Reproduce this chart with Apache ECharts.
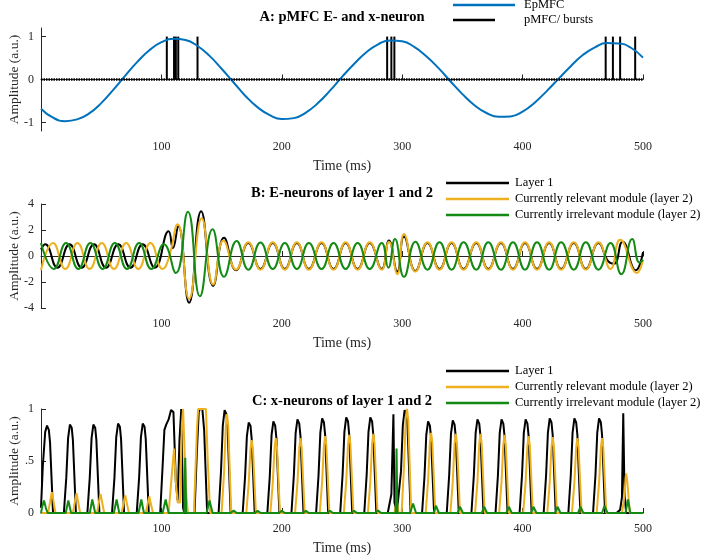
<!DOCTYPE html>
<html>
<head>
<meta charset="utf-8">
<script src="https://cdn.jsdelivr.net/npm/echarts@6/dist/echarts.min.js"></script>
<style>
  html, body { margin: 0; padding: 0; background: #fff; }
  #main { width: 701px; height: 557px; }
</style>
</head>
<body>
<div id="main"></div>
<script>
// ---- panel A: pMFC E- and x-neuron ----
var timeA = [0, 10, 20, 30, 40, 50, 60, 70, 80, 90, 100, 110, 120, 130, 140, 150, 160, 170, 180, 190, 200,
  210, 220, 230, 240, 250, 260, 270, 280, 290, 300, 310, 320, 330, 340, 350, 360, 370, 380, 390, 400,
  410, 420, 430, 440, 450, 460, 470, 480, 490, 500];
var epmfc = [-0.68, -0.89, -0.97, -0.93, -0.79, -0.55, -0.24, 0.09, 0.41, 0.68, 0.87, 0.95, 0.92, 0.78, 0.55,
  0.25, -0.07, -0.39, -0.65, -0.83, -0.92, -0.90, -0.77, -0.55, -0.26, 0.06, 0.36, 0.63, 0.82, 0.91, 0.89,
  0.76, 0.54, 0.27, -0.04, -0.34, -0.60, -0.78, -0.87, -0.86, -0.75, -0.54, -0.27, 0.02, 0.31, 0.57, 0.75,
  0.85, 0.84, 0.74, 0.51];
var burstTimes = [104.5, 110.5, 112, 114, 130, 287.5, 291, 293.5, 469, 475, 481, 493.5];
var burstHeights = [1, 1, 1, 1, 1, 1, 1, 1, 1, 1, 1, 1];
var pmfcBaseline = [[0, 0], [500, 0]];

// ---- panel B: E-neurons (extrema) ----
var layer1E = [[0, 0.5], [3.5, 0.9], [13.6, -0.9], [23.7, 0.9], [33.8, -0.9], [44, 0.9], [54, -0.9], [64.2, 0.9],
  [74.3, -0.9], [84.4, 0.9], [94.5, -0.9], [106, 1.9], [109.5, 0.6], [114, 2.3], [123, -3.6], [133, 3.45],
  [143, -2.3], [152, 1.4], [162, -1.1], [172.2, 1.0], [182.3, -1.0], [192.5, 1.0], [202.5, -1.0], [212.5, 1.0],
  [222.5, -1.0], [233, 1.0], [243, -1.0], [253, 1.0], [263, -1.0], [273, 1.0], [283, -1.0], [289, 1.2],
  [296, -1.2], [301.5, 1.5], [311, -1.15], [321, 1.0], [331, -1.0], [341, 1.0], [351, -1.0], [361.5, 1.0],
  [371.5, -1.0], [382, 1.0], [392, -1.0], [402, 1.0], [412, -1.0], [422, 1.0], [432, -1.0], [442.5, 1.0],
  [452.5, -1.0], [463, 1.0], [471, -0.4], [476, -0.6], [483, 1.1], [494, -1.1], [500, 0.3]];
var relevantE = [[0, -1.1], [10, 1.0], [20.2, -1.0], [30.3, 1.0], [40.4, -1.0], [50.5, 1.0], [60.6, -1.0],
  [70.7, 1.0], [80.8, -1.0], [90.9, 1.0], [101, -1.0], [106, -0.2], [113.5, 2.45], [123, -3.3], [133.5, 2.9],
  [143, -2.2], [151.5, 1.2], [162, -1.05], [172.2, 1.05], [182.3, -1.05], [192.5, 1.05], [202.5, -1.05],
  [212.5, 1.05], [222.5, -1.05], [233, 1.05], [243, -1.05], [253, 1.05], [263, -1.05], [273, 1.05],
  [283, -1.05], [289, 1.1], [296, -1.4], [301.5, 1.7], [311, -1.2], [321, 1.05], [331, -1.05], [341, 1.05],
  [351, -1.05], [361.5, 1.05], [371.5, -1.05], [382, 1.05], [392, -1.05], [402, 1.05], [412, -1.05],
  [422, 1.05], [432, -1.05], [442.5, 1.05], [452.5, -1.05], [463, 1.05], [473, -1.0], [481, 1.25],
  [495, -1.3], [500, -0.3]];
var irrelevantE = [[0, 1.0], [10.6, -1.0], [20.8, 1.0], [31, -1.0], [41, 1.0], [51.2, -1.0], [61.3, 1.0],
  [71.4, -1.0], [81.5, 1.0], [91.6, -1.0], [102, 0.9], [112, -1.3], [122, 3.4], [132, -3.1], [142.5, 2.05],
  [152, -1.6], [162.5, 1.15], [172.2, -1.05], [182.3, 1.03], [192.5, -1.0], [202.5, 1.0], [212.5, -1.0],
  [222.5, 1.0], [233, -1.0], [243, 1.0], [253, -1.0], [263, 1.0], [273, -1.0], [283, 1.0], [288.5, -0.9],
  [294, 1.3], [301.5, -1.6], [311, 1.1], [321, -1.05], [331, 1.05], [341, -1.05], [351, 1.05], [361.5, -1.05],
  [371.5, 1.05], [382, -1.05], [392, 1.05], [402, -1.05], [412, 1.05], [422, -1.05], [432, 1.05],
  [442.5, -1.05], [452.5, 1.05], [463, -1.05], [473, 1.0], [482, -1.4], [491, 1.3], [497, -0.5], [500, -0.3]];

// ---- panel C: x-neurons ----
var layer1X = [
  [0, 0.05], [1.5, 0.45], [3.5, 0.78], [5, 0.84], [6.5, 0.8], [7.5, 0.68], [10, 0],
  [19, 0], [21, 0.34], [22.5, 0.72], [24, 0.85], [25.5, 0.82], [26.5, 0.7], [29, 0],
  [38.5, 0], [40.5, 0.34], [42, 0.72], [43.5, 0.85], [45, 0.82], [46, 0.7], [48.5, 0],
  [59, 0], [61, 0.34], [62.5, 0.73], [64, 0.86], [65.5, 0.83], [66.5, 0.71], [69, 0],
  [79.5, 0], [81.5, 0.34], [83, 0.73], [84.5, 0.86], [86, 0.83], [87, 0.71], [89.5, 0],
  [99, 0], [101, 0.45], [102.5, 0.8], [104, 0.85], [106, 0.9], [108, 0.99], [110, 0.97], [112, 0.3],
  [113.5, 0.12], [115, 0.7], [116.5, 1.0], [118, 0.05], [119, 0],
  [127.5, 0], [129.5, 0.6], [131, 0.97], [132, 1.0], [134, 1.0], [135.5, 0.8], [138, 0],
  [147.5, 0], [149.5, 0.4], [151, 0.84], [152.5, 0.99], [154, 0.95], [155, 0.81], [157.5, 0],
  [167.5, 0], [169.5, 0.35], [171, 0.74], [172.5, 0.87], [174, 0.84], [175, 0.71], [177.5, 0],
  [188, 0], [190, 0.35], [191.5, 0.75], [193, 0.88], [194.5, 0.84], [195.5, 0.72], [198, 0],
  [208, 0], [210, 0.36], [211.5, 0.77], [213, 0.9], [214.5, 0.86], [215.5, 0.74], [218, 0],
  [228.5, 0], [230.5, 0.36], [232, 0.77], [233.5, 0.91], [235, 0.87], [236, 0.75], [238.5, 0],
  [248.5, 0], [250.5, 0.37], [252, 0.78], [253.5, 0.92], [255, 0.88], [256, 0.75], [258.5, 0],
  [268.5, 0], [270.5, 0.37], [272, 0.78], [273.5, 0.92], [275, 0.88], [276, 0.75], [278.5, 0],
  [288, 0], [291, 0.18], [292.7, 0.95], [293.6, 0.1], [295.5, 0],
  [297, 0], [299, 0.4], [300.5, 0.84], [302, 0.99], [303.5, 0.95], [304.5, 0.81], [307, 0],
  [316.5, 0], [318.5, 0.35], [320, 0.75], [321.5, 0.88], [323, 0.84], [324, 0.72], [326.5, 0],
  [337, 0], [339, 0.36], [340.5, 0.76], [342, 0.89], [343.5, 0.85], [344.5, 0.73], [347, 0],
  [357.5, 0], [359.5, 0.36], [361, 0.77], [362.5, 0.9], [364, 0.86], [365, 0.74], [367.5, 0],
  [377.5, 0], [379.5, 0.36], [381, 0.77], [382.5, 0.9], [384, 0.86], [385, 0.74], [387.5, 0],
  [397.5, 0], [399.5, 0.36], [401, 0.77], [402.5, 0.9], [404, 0.86], [405, 0.74], [407.5, 0],
  [417.5, 0], [419.5, 0.36], [421, 0.77], [422.5, 0.91], [424, 0.87], [425, 0.75], [427.5, 0],
  [438, 0], [440, 0.36], [441.5, 0.77], [443, 0.91], [444.5, 0.87], [445.5, 0.75], [448, 0],
  [458.5, 0], [460.5, 0.36], [462, 0.77], [463.5, 0.91], [465, 0.87], [466, 0.75], [468.5, 0],
  [478, 0], [481, 0.03], [482.5, 0.15], [483.6, 0.96], [484.6, 0.2], [486, 0],
  [500, 0]];
var relevantX = [
  [0, 0], [6, 0], [8, 0.14], [9, 0.2], [10, 0.14], [12, 0],
  [26.5, 0], [28.5, 0.13], [29.5, 0.19], [30.5, 0.13], [32.5, 0],
  [46.5, 0], [48.5, 0.13], [49.5, 0.18], [50.5, 0.12], [52.5, 0],
  [67, 0], [69, 0.12], [70, 0.17], [71, 0.11], [73, 0],
  [87, 0], [89, 0.11], [90, 0.16], [91, 0.1], [93, 0],
  [106, 0], [108.5, 0.35], [110.5, 0.62], [112, 0.3], [113.5, 0.1], [115.5, 0.1], [117, 0.85], [118, 1.0],
  [119.5, 1.0], [120.5, 0.2], [122, 0],
  [127, 0], [129.5, 0.8], [130.5, 1.0], [137, 1.0], [138.5, 0.5], [140.5, 0],
  [150, 0], [152, 0.38], [153.5, 0.84], [154.5, 0.95], [155.5, 0.84], [158, 0],
  [170.5, 0], [172.5, 0.28], [174, 0.62], [175, 0.7], [176, 0.62], [178.5, 0],
  [190.5, 0], [192.5, 0.29], [194, 0.63], [195, 0.72], [196, 0.63], [198.5, 0],
  [211, 0], [213, 0.29], [214.5, 0.63], [215.5, 0.72], [216.5, 0.63], [219, 0],
  [231.5, 0], [233.5, 0.3], [235, 0.65], [236, 0.74], [237, 0.65], [239.5, 0],
  [251.5, 0], [253.5, 0.3], [255, 0.66], [256, 0.75], [257, 0.66], [259.5, 0],
  [271.5, 0], [273.5, 0.3], [275, 0.67], [276, 0.76], [277, 0.67], [279.5, 0],
  [293.5, 0], [295.5, 0.12], [297, 0],
  [299.5, 0], [301.5, 0.45], [303, 0.92], [304, 1.0], [305, 0.9], [307.5, 0],
  [319.5, 0], [321.5, 0.31], [323, 0.68], [324, 0.77], [325, 0.68], [327.5, 0],
  [340, 0], [342, 0.3], [343.5, 0.67], [344.5, 0.76], [345.5, 0.67], [348, 0],
  [360.5, 0], [362.5, 0.3], [364, 0.67], [365, 0.76], [366, 0.67], [368.5, 0],
  [380.5, 0], [382.5, 0.3], [384, 0.66], [385, 0.75], [386, 0.66], [388.5, 0],
  [400.5, 0], [402.5, 0.3], [404, 0.65], [405, 0.74], [406, 0.65], [408.5, 0],
  [420.5, 0], [422.5, 0.29], [424, 0.64], [425, 0.73], [426, 0.64], [428.5, 0],
  [441, 0], [443, 0.29], [444.5, 0.63], [445.5, 0.72], [446.5, 0.63], [449, 0],
  [461.5, 0], [463.5, 0.29], [465, 0.63], [466, 0.72], [467, 0.63], [469.5, 0],
  [482.5, 0], [484.5, 0.15], [485.5, 0.33], [486, 0.38], [487, 0.3], [489, 0],
  [500, 0]];
var irrelevantX = [
  [0, 0], [1, 0.06], [2.5, 0.12], [4, 0.05], [5.5, 0],
  [20.5, 0], [22.7, 0.12], [25, 0],
  [40.5, 0], [42.6, 0.13], [45, 0],
  [60.5, 0], [62.8, 0.13], [65, 0],
  [81, 0], [83.3, 0.13], [85.5, 0],
  [101, 0], [103.5, 0.13], [106, 0],
  [119, 0], [119.8, 0.53], [120.6, 0],
  [137.5, 0], [140, 0.12], [142.5, 0],
  [157.5, 0], [160, 0.025], [162.5, 0],
  [177.5, 0], [180, 0.02], [182.5, 0],
  [197.5, 0], [200, 0.02], [202.5, 0],
  [217.5, 0], [220, 0.02], [222.5, 0],
  [237.5, 0], [240, 0.02], [242.5, 0],
  [257.5, 0], [260, 0.02], [262.5, 0],
  [277.5, 0], [280, 0.025], [282.5, 0],
  [294.6, 0], [295.3, 0.62], [296, 0],
  [306.5, 0], [309, 0.09], [311.5, 0],
  [326, 0], [328, 0.07], [330.5, 0],
  [346, 0], [348, 0.06], [350.5, 0],
  [366, 0], [368, 0.06], [370.5, 0],
  [386.5, 0], [388.6, 0.06], [391, 0],
  [407, 0], [409, 0.06], [411.5, 0],
  [427, 0], [429, 0.06], [431.5, 0],
  [446, 0], [448, 0.06], [450.5, 0],
  [466, 0], [468, 0.07], [470.5, 0],
  [485.5, 0], [487.5, 0.13], [489.5, 0],
  [500, 0]];

var names = ['Layer 1', 'Currently relevant module (layer 2)', 'Currently irrelevant module (layer 2)'];

var SERIF = 'Liberation Serif, Times New Roman, serif';
var AXIS = '#262626';
var C_BLUE = '#0072BD', C_BLACK = '#000000', C_YEL = '#EDB120', C_GREEN = '#138A13';

function xAx(i) {
    return {
        type: 'value', gridIndex: i, min: 0, max: 500, interval: 100,
        name: 'Time (ms)', nameLocation: 'middle', nameGap: 28, nameMoveOverlap: false,
        nameTextStyle: {fontFamily: SERIF, fontSize: 14, color: AXIS},
        axisLine: {lineStyle: {color: AXIS, width: 1}},
        axisTick: {inside: true, length: 5, lineStyle: {color: AXIS}},
        axisLabel: {showMinLabel: false, fontFamily: SERIF, fontSize: 12, color: AXIS, margin: 10},
        splitLine: {show: false}
    };
}
function yAx(i, extra) {
    var ax = {
        type: 'value', gridIndex: i,
        name: 'Amplitude (a.u.)', nameLocation: 'middle', nameGap: 20, nameMoveOverlap: false,
        nameTextStyle: {fontFamily: SERIF, fontSize: 13.5, color: AXIS},
        axisLine: {show: true, lineStyle: {color: AXIS, width: 1}},
        axisTick: {show: true, inside: true, length: 5, lineStyle: {color: AXIS}},
        axisLabel: {fontFamily: SERIF, fontSize: 12, color: AXIS, margin: 7},
        splitLine: {show: false}
    };
    for (var k in extra) {
        if (typeof extra[k] === 'object' && ax[k]) Object.assign(ax[k], extra[k]);
        else ax[k] = extra[k];
    }
    return ax;
}
function pairs(xs, ys) {
    return xs.map(function (x, i) { return [x, ys[i]]; });
}
function lineSeries(name, data, color, axis, smooth) {
    return {
        name: name, type: 'line', xAxisIndex: axis, yAxisIndex: axis, data: data,
        showSymbol: false, smooth: smooth,
        lineStyle: {color: color, width: 2}, itemStyle: {color: color}
    };
}
function legendBox(data, left, top, width, pad) {
    return {
        data: data, orient: 'vertical', left: left, top: top, padding: 0,
        itemWidth: width, itemHeight: 2.5, itemGap: 0, icon: 'rect',
        textStyle: {fontFamily: SERIF, fontSize: 12.5, color: '#000', lineHeight: 16, padding: [0, 0, 0, pad || 0]}
    };
}
function titleBox(text, top) {
    return {
        text: text, left: 342, top: top, textAlign: 'center', padding: 0,
        textStyle: {fontFamily: SERIF, fontSize: 14.5, fontWeight: 'bold', color: '#000'}
    };
}
function gridBox(top, height) {
    return {left: 41, top: top, width: 602, height: height, containLabel: false, outerBoundsMode: 'none'};
}

var myChart = echarts.init(document.getElementById('main'));
var option = {
    animation: false,
    backgroundColor: '#fff',
    title: [
        titleBox('A: pMFC E- and x-neuron', 10),
        titleBox('B: E-neurons of layer 1 and 2', 186),
        titleBox('C: x-neurons of layer 1 and 2', 394)
    ],
    legend: [
        legendBox(['EpMFC'], 453, -3, 62, 4),
        legendBox(['pMFC/ bursts'], 453, 12, 42, 24),
        legendBox(names, 446, 175, 63, 1),
        legendBox(names, 446, 363, 63, 1)
    ],
    grid: [gridBox(28, 103), gridBox(204, 104), gridBox(409, 104)],
    xAxis: [xAx(0), xAx(1), xAx(2)],
    yAxis: [
        yAx(0, {min: -1.2, max: 1.2, axisLabel: {customValues: [-1, 0, 1]}, axisTick: {customValues: [-1, 0, 1]}}),
        yAx(1, {min: -4, max: 4, interval: 2}),
        yAx(2, {min: 0, max: 1, interval: 0.5, axisLabel: {formatter: function (v) { return v === 0.5 ? '.5' : String(v); }}})
    ],
    series: [
        lineSeries('EpMFC', pairs(timeA, epmfc), C_BLUE, 0, true),
        {
            name: 'pMFC/ bursts', type: 'bar', xAxisIndex: 0, yAxisIndex: 0, barWidth: 2,
            data: pairs(burstTimes, burstHeights), itemStyle: {color: C_BLACK}
        },
        {
            name: 'pMFC/ bursts', type: 'line', xAxisIndex: 0, yAxisIndex: 0, data: pmfcBaseline,
            showSymbol: false, lineStyle: {color: C_BLACK, width: 2.5, type: [1.5, 1]}, itemStyle: {color: C_BLACK}
        },
        lineSeries(names[0], layer1E, C_BLACK, 1, 0.5),
        lineSeries(names[1], relevantE, C_YEL, 1, 0.5),
        lineSeries(names[2], irrelevantE, C_GREEN, 1, 0.5),
        lineSeries(names[0], layer1X, C_BLACK, 2, false),
        lineSeries(names[1], relevantX, C_YEL, 2, false),
        lineSeries(names[2], irrelevantX, C_GREEN, 2, false)
    ]
};
myChart.setOption(option);
</script>
</body>
</html>
